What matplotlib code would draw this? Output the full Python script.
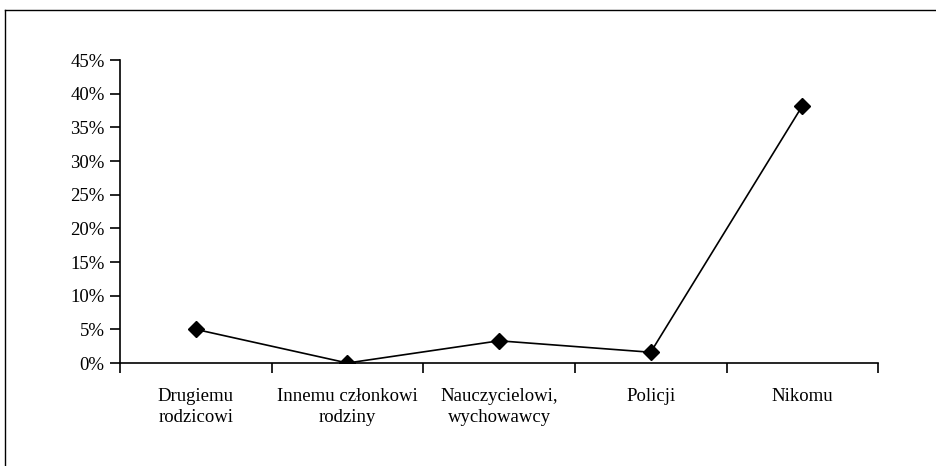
import matplotlib
matplotlib.use("Agg")
import matplotlib.pyplot as plt
from matplotlib.lines import Line2D
from matplotlib.ticker import FixedLocator, PercentFormatter

categories = ["Drugiemu\nrodzicowi", "Innemu członkowi\nrodziny", "Nauczycielowi,\nwychowawcy", "Policji", "Nikomu"]
values = [5.0, 0.0, 3.3, 1.6, 38.2]
yticks = [0, 5, 10, 15, 20, 25, 30, 35, 40, 45]

plt.rcParams["font.family"] = ["Liberation Serif", "DejaVu Serif"]
plt.rcParams["font.size"] = 13.5

fig = plt.figure(figsize=(9.36, 4.66), dpi=100)
ax = fig.add_axes([0.1282, 0.221, 0.81, 0.65])

xs = list(range(len(categories)))
ax.plot(xs, values, color="black", linewidth=1.2, marker="D", markersize=8.5,
        markerfacecolor="black", markeredgecolor="black")

ax.set_xlim(-0.5, len(categories) - 0.5)
ax.set_ylim(0, 45)
ax.set_yticks(yticks)
ax.yaxis.set_major_formatter(PercentFormatter(decimals=0))
ax.tick_params(axis="y", direction="out", length=7, width=1.2, pad=4)

ax.set_xticks(xs)
ax.set_xticklabels(categories, linespacing=1.3)
ax.tick_params(axis="x", which="major", length=0, pad=18)
ax.xaxis.set_minor_locator(FixedLocator([i - 0.5 for i in range(len(categories) + 1)]))
ax.tick_params(axis="x", which="minor", direction="out", length=7, width=1.2)

for side in ["top", "right"]:
    ax.spines[side].set_visible(False)
for side in ["left", "bottom"]:
    ax.spines[side].set_linewidth(1.2)

# ramka wokół wykresu (górna i lewa krawędź)
fy = 1 - 9.5 / 466
fx = 4.5 / 936
fig.add_artist(Line2D([fx, 1], [fy, fy], transform=fig.transFigure, color="black", linewidth=1))
fig.add_artist(Line2D([fx, fx], [0, fy], transform=fig.transFigure, color="black", linewidth=1))

fig.savefig("out.png", dpi=100)
